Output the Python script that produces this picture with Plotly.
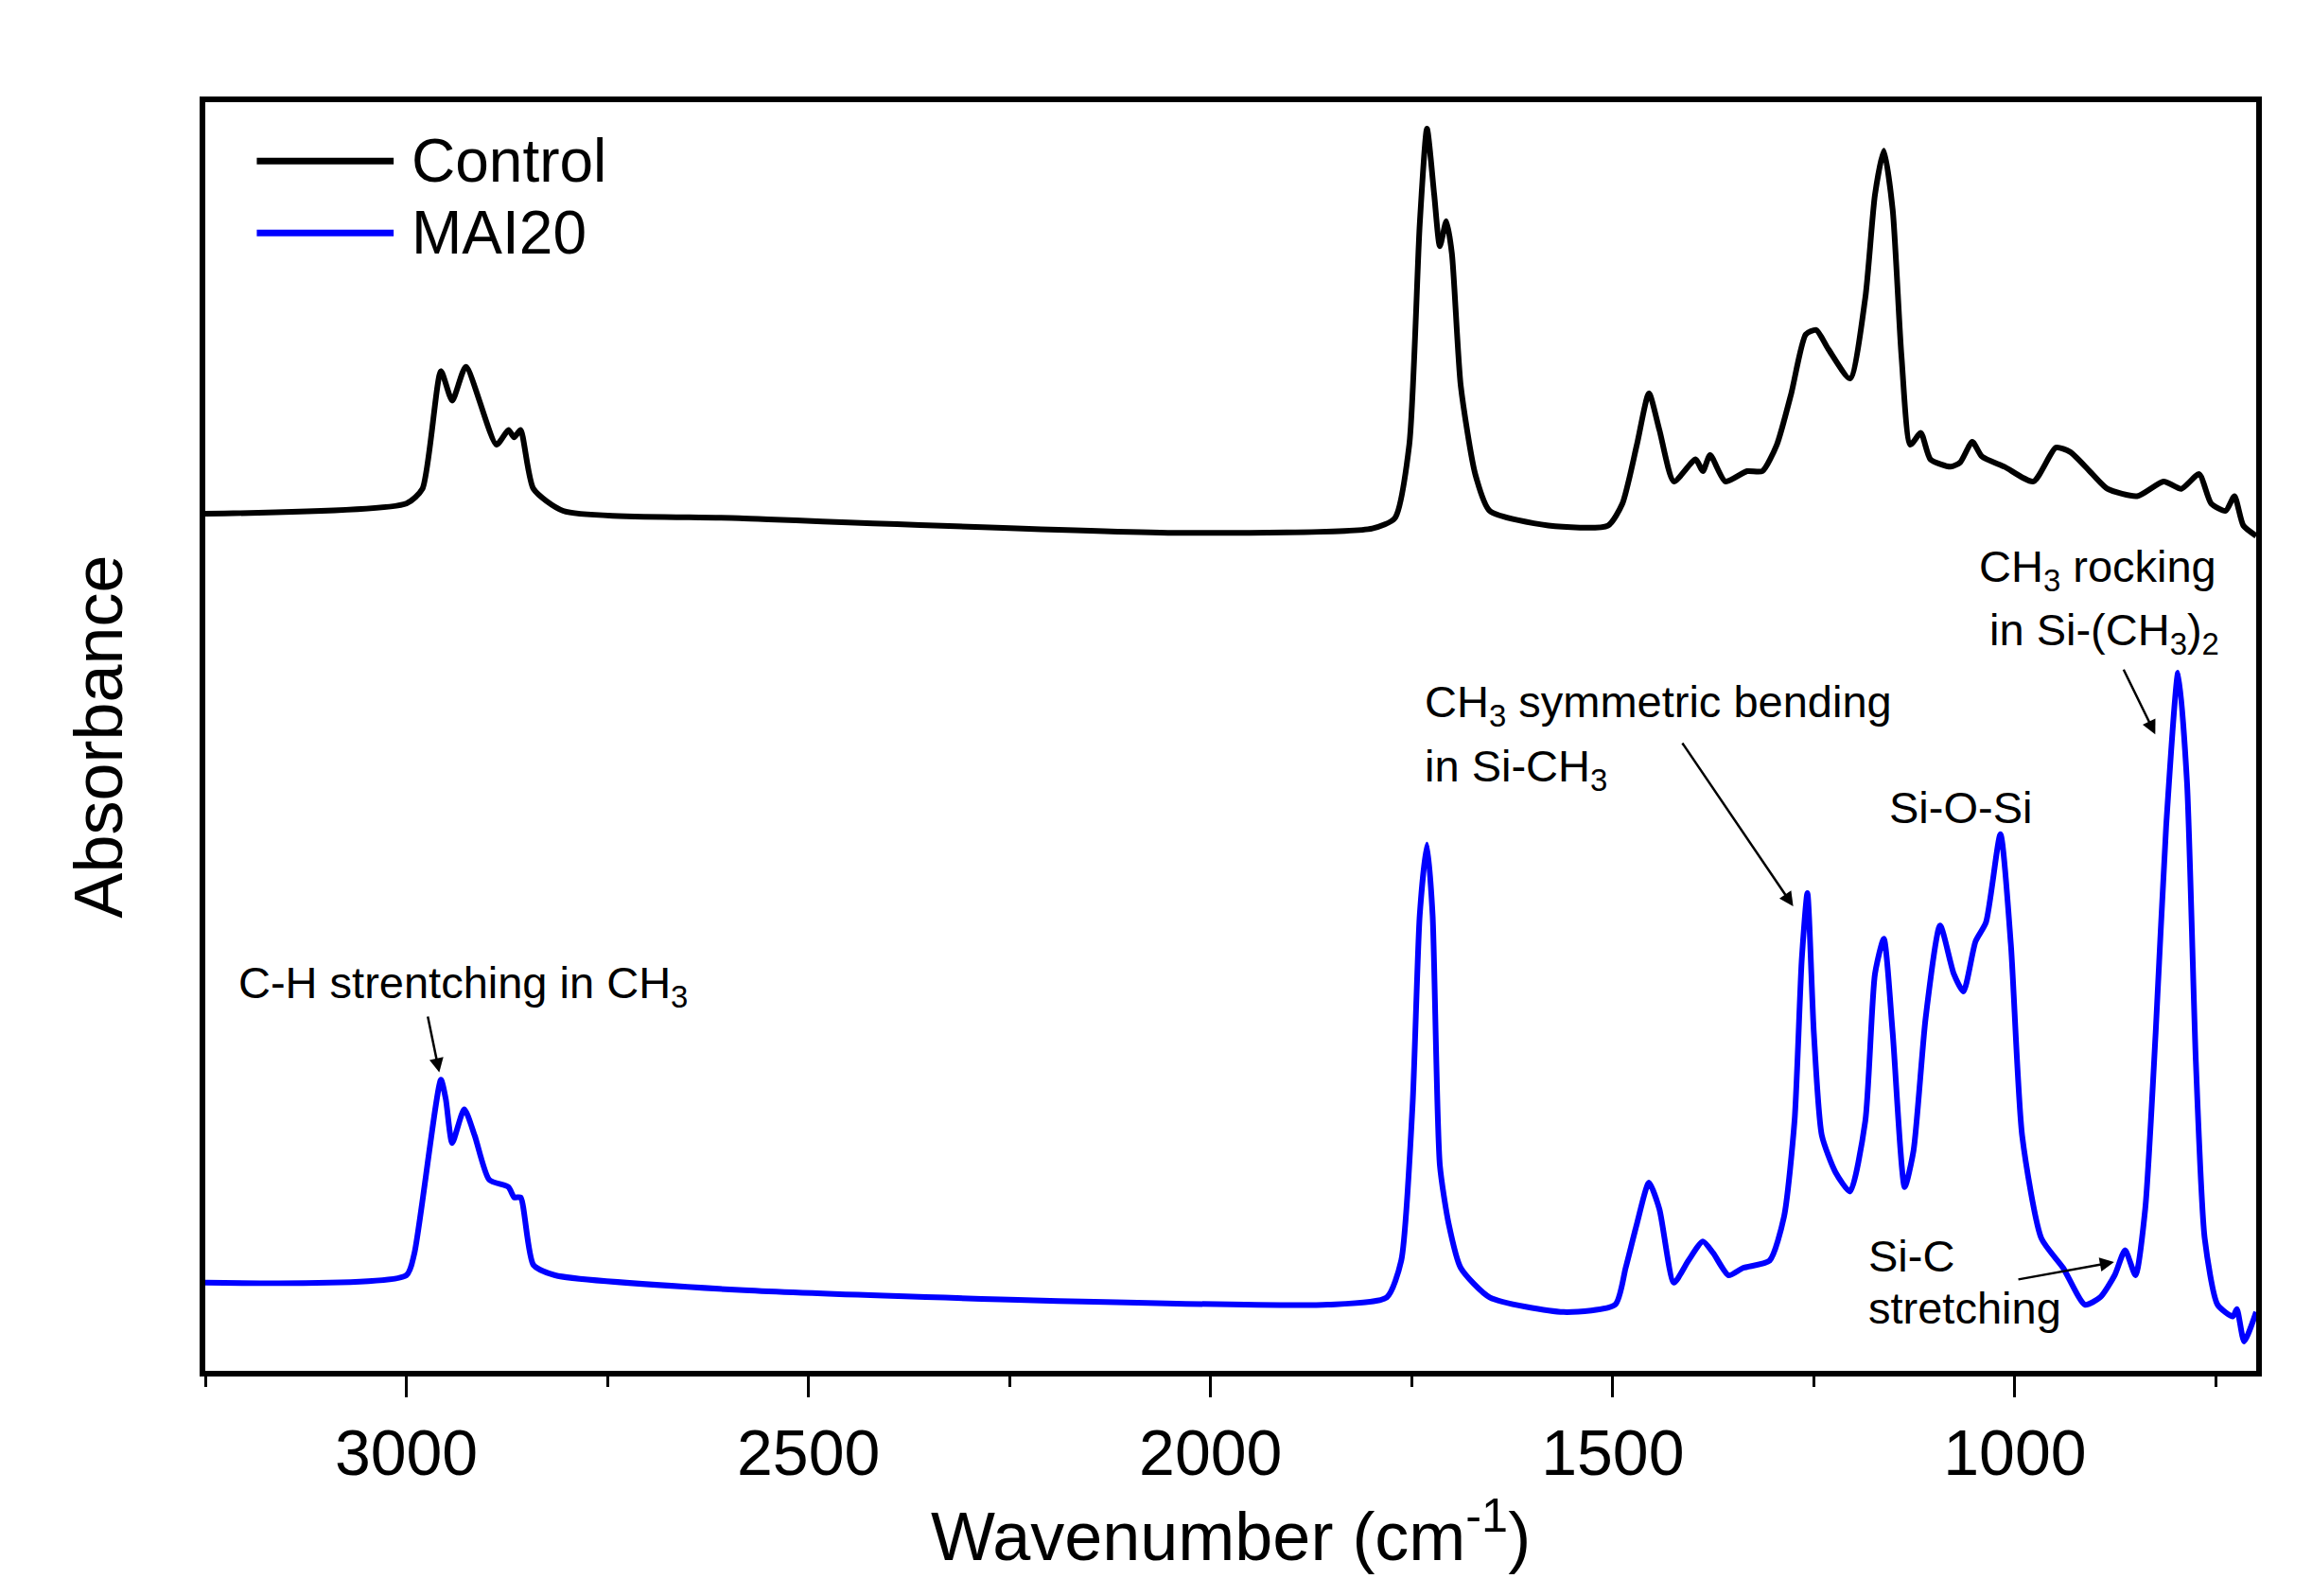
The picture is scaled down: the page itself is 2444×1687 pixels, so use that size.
import plotly.graph_objects as go

# Control spectrum (wavenumber, relative absorbance)
ctrl_wn = [3250, 3000, 2980, 2957, 2943, 2926, 2888, 2873, 2866, 2858, 2842, 2805, 2586, 2037, 1799, 1771, 1753,
           1740, 1731, 1722, 1715, 1707, 1700, 1689, 1671, 1653, 1580, 1506, 1488, 1470, 1455, 1442, 1424, 1397,
           1388, 1379, 1360, 1333, 1314, 1296, 1278, 1260, 1247, 1232, 1205, 1186, 1174, 1163, 1152, 1141, 1130,
           1117, 1105, 1080, 1068, 1053, 1041, 1013, 977, 949, 931, 907, 885, 848, 815, 793, 771, 756, 738, 727,
           716, 700]
ctrl_y = [583, 590, 600, 680, 660, 683, 630, 640, 635, 640, 600, 585, 580, 570, 573, 580, 630,
          780, 845, 800, 765, 782, 760, 670, 610, 585, 575, 575, 590, 630, 665, 640, 605, 620,
          612, 623, 605, 612, 612, 630, 665, 705, 708, 695, 675, 730, 800, 830, 790, 690, 630,
          638, 620, 615, 618, 632, 622, 615, 605, 628, 625, 612, 600, 595, 605, 600, 610, 590, 585, 595,
          575, 568]

# MAI20 spectrum
mai_wn = [3250, 3000, 2990, 2957, 2951, 2943, 2928, 2915, 2897, 2873, 2866, 2858, 2842, 2815, 2586, 2220, 1854,
          1781, 1763, 1749, 1740, 1731, 1724, 1715, 1704, 1689, 1653, 1561, 1497, 1484, 1470, 1455, 1442, 1424,
          1406, 1388, 1375, 1356, 1338, 1305, 1287, 1274, 1265, 1258, 1250, 1240, 1223, 1205, 1186, 1174, 1163,
          1152, 1137, 1126, 1111, 1093, 1076, 1064, 1049, 1036, 1018, 1005, 991, 967, 940, 913, 894, 876, 863,
          850, 838, 825, 812, 797, 786, 775, 764, 748, 729, 724, 715, 700]
mai_y = [60, 65, 80, 198, 185, 155, 178, 160, 130, 125, 118, 118, 72, 65, 55, 48, 45,
         50, 75, 180, 310, 358, 310, 140, 100, 70, 50, 40, 45, 70, 100, 128, 110, 60,
         75, 88, 80, 65, 70, 75, 105, 170, 280, 325, 230, 160, 135, 122, 170, 270, 294,
         230, 125, 150, 240, 303, 270, 258, 292, 305, 365, 290, 160, 90, 70, 45, 50, 65, 82,
         65, 110, 230, 370, 475, 400, 210, 90, 45, 37, 42, 20, 40]

series_names = ["Control", "MAI20"]
series_colors = ["black", "#0000FF"]

def X(px):
    return 3250 - (px - 137) * 500 / 273.25

def Y(py):
    return 930 - py

fig = go.Figure()
for wn, yy, nm, col in [(ctrl_wn, ctrl_y, series_names[0], series_colors[0]),
                        (mai_wn, mai_y, series_names[1], series_colors[1])]:
    fig.add_trace(go.Scatter(x=wn, y=yy, mode="lines", name=nm, showlegend=False,
                             line=dict(color=col, width=6, shape="spline", smoothing=0.6)))

F = "Liberation Sans, Arial, sans-serif"

# manual legend
for i, (nm, col) in enumerate(zip(series_names, series_colors)):
    py = 107 + 49 * i
    fig.add_shape(type="line", xref="x", yref="y", x0=X(172), x1=X(265), y0=Y(py), y1=Y(py),
                  line=dict(color=col, width=7))
    fig.add_annotation(x=X(276), y=Y(py), text=nm, showarrow=False, xanchor="left", yanchor="middle",
                       font=dict(size=64, color="black", family=F))

ann = dict(showarrow=False, font=dict(size=47, color="black", family=F), xanchor="left", align="left")
texts = [
    (158, 668, "C-H strentching in CH<sub>3</sub>"),
    (964, 477, "CH<sub>3</sub> symmetric bending"),
    (964, 521, "in Si-CH<sub>3</sub>"),
    (1280, 547, "Si-O-Si"),
    (1341, 385, "CH<sub>3</sub> rocking"),
    (1348, 428, "in Si-(CH<sub>3</sub>)<sub>2</sub>"),
    (1266, 852, "Si-C"),
    (1266, 887, "stretching"),
]
for px, py, t in texts:
    fig.add_annotation(x=X(px), y=Y(py), text=t, **ann)

arrows = [((288, 688), (296, 727)), ((1140, 502), (1216, 614)), ((1440, 452), (1462, 497)),
          ((1368, 868), (1434, 856))]
for (x0, y0), (x1, y1) in arrows:
    fig.add_annotation(x=X(x1), y=Y(y1), ax=X(x0), ay=Y(y0), axref="x", ayref="y", xref="x", yref="y",
                       text="", showarrow=True, arrowhead=2, arrowsize=1.2, arrowwidth=2.5, arrowcolor="black")

fig.update_layout(
    width=2444, height=1687, paper_bgcolor="white", plot_bgcolor="white",
    margin=dict(l=209, r=67, t=100, b=246),
    font=dict(family=F, color="black"),
    showlegend=False,
    xaxis=dict(range=[3250, 700], showline=True, mirror=True, linecolor="black", linewidth=6,
               ticks="outside", ticklen=22, tickwidth=3, tickcolor="black", dtick=500, tick0=0,
               tickfont=dict(size=68), showgrid=False, zeroline=False,
               minor=dict(ticks="outside", ticklen=11, tickwidth=3, dtick=250, tickcolor="black"),
               title=dict(text="Wavenumber (cm<sup>-1</sup>)", font=dict(size=72), standoff=6)),
    yaxis=dict(range=[0, 863], showline=True, mirror=True, linecolor="black", linewidth=6,
               showticklabels=False, ticks="", showgrid=False, zeroline=False,
               title=dict(text="Absorbance", font=dict(size=72), standoff=60)),
)
fig.write_html("out.html")
